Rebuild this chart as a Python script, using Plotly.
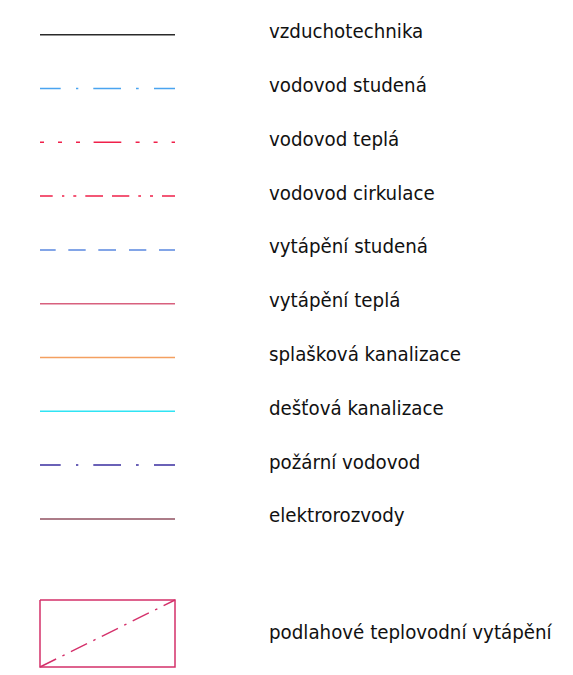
import plotly.graph_objects as go

# ---- data ----
labels = [
    "vzduchotechnika",
    "vodovod studená",
    "vodovod teplá",
    "vodovod cirkulace",
    "vytápění studená",
    "vytápění teplá",
    "splašková kanalizace",
    "dešťová kanalizace",
    "požární vodovod",
    "elektrorozvody",
]
box_label = "podlahové teplovodní vytápění"

# ---- styles ----
colors = [
    "#2a2a2a", "#4aa4f0", "#f0204a", "#f0204a", "#5a88e0",
    "#d8607e", "#f4a060", "#30e4f4", "#3a2ea0", "#905060",
]
dashes = [
    "solid",
    "20.7px,15.3px,2.3px,15px,27.7px,15px,2.7px,15.3px,21px",
    "4px,14px,4px,14px,4px,13.6px,27.7px,14.3px,4px,14px,4px,14px,4px",
    "12.7px,9.3px,2.3px,9px,3px,9px,17.7px,9px,17.3px,9px,2.7px,9px,3px,9px,13px",
    "15.7px,12.6px,17.4px,12.6px,17.7px,13px,17.3px,12.7px,16px",
    "solid",
    "solid",
    "solid",
    "20.7px,15.3px,2.3px,15px,27.7px,15px,2.7px,15.3px,21px",
    "solid",
]
box_color = "#d4306a"

X0, X1 = 40, 175
Y0, DY = 34.7, 53.8
TEXT_X = 267
FONT = "DejaVu Sans Condensed, Liberation Sans Narrow, sans-serif"
FS = 20.3
OFF = 8  # page body margin

fig = go.Figure()
annotations = []
for i, (lab, col, dsh) in enumerate(zip(labels, colors, dashes)):
    y = Y0 + i * DY
    fig.add_trace(go.Scatter(
        x=[X0, X1], y=[y, y], mode="lines",
        line=dict(color=col, width=1.5, dash=dsh),
        hoverinfo="skip", showlegend=False,
    ))
    annotations.append(dict(
        x=TEXT_X, y=y - 3.5, xref="x", yref="y", text=lab, showarrow=False,
        xanchor="left", yanchor="middle",
        font=dict(family=FONT, size=FS, color="#111111"),
    ))

# box item
BY0, BY1 = 600, 667
fig.add_trace(go.Scatter(
    x=[X0, X1, X1, X0, X0], y=[BY0, BY0, BY1, BY1, BY0], mode="lines",
    line=dict(color=box_color, width=1.5),
    hoverinfo="skip", showlegend=False,
))
fig.add_trace(go.Scatter(
    x=[X0, X1], y=[BY1, BY0], mode="lines",
    line=dict(color=box_color, width=1.4, dash="18px,7px,2.5px,7px"),
    hoverinfo="skip", showlegend=False,
))
annotations.append(dict(
    x=TEXT_X, y=(BY0 + BY1) / 2 - 1.5, xref="x", yref="y", text=box_label,
    showarrow=False, xanchor="left", yanchor="middle",
    font=dict(family=FONT, size=FS, color="#111111"),
))

fig.update_layout(
    width=573, height=675,
    margin=dict(l=0, r=0, t=0, b=0),
    paper_bgcolor="white", plot_bgcolor="white",
    xaxis=dict(range=[OFF, 573 + OFF], visible=False, fixedrange=True),
    yaxis=dict(range=[675 + OFF, OFF], visible=False, fixedrange=True),
    annotations=annotations,
)
fig.write_html("out.html")
